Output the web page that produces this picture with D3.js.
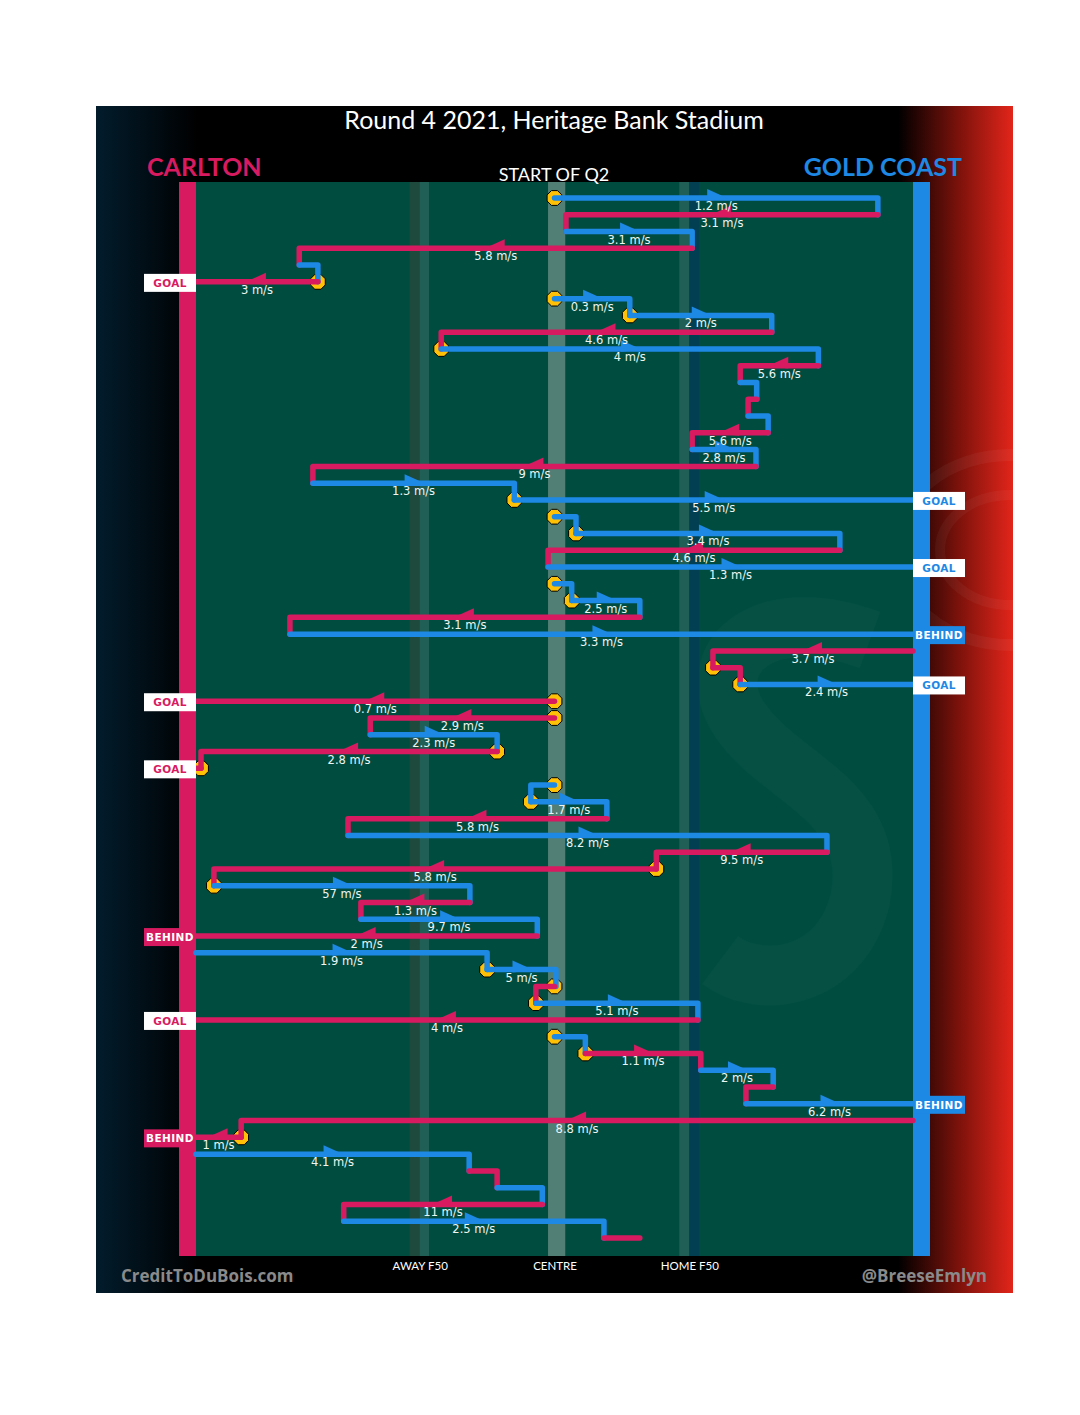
<!doctype html>
<html>
<head>
<script src="https://cdnjs.cloudflare.com/ajax/libs/d3/7.8.5/d3.min.js"></script>
<style>
body { margin: 0; background: #fff; }
text.speed {
  font-family: "DejaVu Sans", sans-serif;
  font-size: 11.5px;
  fill: #eef6f4;
  text-anchor: middle;
}
text.result {
  font-family: "DejaVu Sans", sans-serif;
  font-weight: bold;
  font-size: 10.5px;
  letter-spacing: 0.4px;
  text-anchor: middle;
}
.tick text {
  font-family: Lato, sans-serif;
  font-size: 11.5px;
  fill: #fff;
}
</style>
</head>
<body>
<svg id="chart" width="1080" height="1415"></svg>
<script>
// one row per possession segment, top to bottom
// field position: 0 = Carlton goal line, 100 = Gold Coast goal line
var team = ["GC","CAR","GC","CAR","GC","CAR","GC","GC","CAR","GC",
            "CAR","GC","CAR","GC","CAR","GC","CAR","GC","GC","GC",
            "GC","CAR","GC","GC","GC","CAR","GC","CAR","CAR","GC",
            "CAR","CAR","GC","CAR","CAR","GC","GC","CAR","GC","CAR",
            "CAR","GC","CAR","GC","CAR","GC","GC","CAR","GC","CAR",
            "GC","CAR","GC","CAR","GC","CAR","CAR","GC","CAR","GC",
            "CAR","GC","CAR"];
var xStart = [50,95.1,51.6,69.2,14.4,17.0,50,60.5,80.3,34.2,
              86.8,75.9,78.2,77.0,79.8,69.2,78.1,16.3,44.4,50,
              53.0,89.8,49.1,50,52.4,61.9,13.1,100,72.1,75.9,
              50,50,24.3,42.0,0.7,50,46.7,57.3,21.2,88.0,
              64.2,2.5,38.2,23.0,47.6,0,40.6,50,47.4,70.0,
              50,54.3,70.4,80.5,76.7,100,6.3,0,38.1,42.0,
              48.3,20.6,56.9];
var xEnd =   [95.1,51.6,69.2,14.4,17.0,0,60.5,80.3,34.2,86.8,
              75.9,78.2,77.0,79.8,69.2,78.1,16.3,44.4,100,53.0,
              89.8,49.1,100,52.4,61.9,13.1,100,72.1,75.9,100,
              0,24.3,42.0,0.7,0,46.7,57.3,21.2,88.0,64.2,
              2.5,38.2,23.0,47.6,0,40.6,50.2,47.4,70.0,0,
              54.3,70.4,80.5,76.7,100,6.3,0,38.1,42.0,48.3,
              20.6,56.9,61.9];
var speed =  ["1.2","3.1","3.1","5.8",null,"3","0.3","2","4.6","4",
              "5.6",null,null,null,"5.6","2.8","9","1.3","5.5",null,
              "3.4","4.6","1.3",null,"2.5","3.1","3.3","3.7",null,"2.4",
              "0.7","2.9","2.3","2.8",null,null,"1.7","5.8","8.2","9.5",
              "5.8","57","1.3","9.7","2","1.9","5",null,"5.1","4",
              null,"1.1","2",null,"6.2","8.8","1","4.1",null,null,
              "11","2.5",null];
var stoppage = [1,0,0,0,0,1,1,1,0,1,
                0,0,0,0,0,0,0,0,1,1,
                1,0,0,1,1,0,0,0,1,1,
                1,1,0,1,1,1,1,0,0,0,
                1,1,0,0,0,0,1,1,1,0,
                1,1,0,0,0,0,1,0,0,0,
                0,0,0];
var result = ["","","","","","GOAL","","","","",
              "","","","","","","","","GOAL","",
              "","","GOAL","","","","BEHIND","","","GOAL",
              "GOAL","","","","GOAL","","","","","",
              "","","","","BEHIND","","","","","GOAL",
              "","","","","BEHIND","","BEHIND","","","",
              "","",""];

var landmarks = ["AWAY F50", "CENTRE", "HOME F50"];
var landmarkPos = [31.2, 50, 68.8];

var teamColor = {CAR: "#D81B60", GC: "#1E88E5"};

var svg = d3.select("#chart");
var x = d3.scaleLinear().domain([0, 100]).range([196, 913]);
var y = d3.scaleLinear().domain([0, team.length - 1]).range([198, 1238]);

// background
var defs = svg.append("defs");
var bg = defs.append("linearGradient").attr("id", "bg");
bg.append("stop").attr("offset", "0%").attr("stop-color", "#021c2c");
bg.append("stop").attr("offset", "11%").attr("stop-color", "#000");
bg.append("stop").attr("offset", "87.5%").attr("stop-color", "#000");
bg.append("stop").attr("offset", "94%").attr("stop-color", "#7a120b");
bg.append("stop").attr("offset", "100%").attr("stop-color", "#e2251a");

svg.append("rect").attr("x", 96).attr("y", 106).attr("width", 917).attr("height", 1187)
  .attr("fill", "url(#bg)");

// faint logo on the red side
svg.append("ellipse").attr("cx", 1010).attr("cy", 550).attr("rx", 115).attr("ry", 95)
  .attr("fill", "none").attr("stroke", "#fff").attr("stroke-opacity", 0.045).attr("stroke-width", 12);
svg.append("ellipse").attr("cx", 1010).attr("cy", 550).attr("rx", 70).attr("ry", 55)
  .attr("fill", "none").attr("stroke", "#fff").attr("stroke-opacity", 0.04).attr("stroke-width", 10);

// field
svg.append("rect").attr("x", x(0)).attr("y", 182).attr("width", x(100) - x(0)).attr("height", 1074)
  .attr("fill", "#004D40");

// faint logo on the field
svg.append("path")
  .attr("d", "M870,640 C760,600 700,660 740,720 C780,780 880,800 860,900 C840,980 760,990 720,960")
  .attr("fill", "none").attr("stroke", "#fff").attr("stroke-opacity", 0.02).attr("stroke-width", 60);

var bands = [
  {a: 29.8, b: 31.2, c: "#1d4a3d"},
  {a: 31.2, b: 32.5, c: "#1f5f55"},
  {a: 49.1, b: 51.5, c: "#517f76"},
  {a: 67.4, b: 68.8, c: "#1f5f55"},
  {a: 68.8, b: 70.2, c: "#023f52"}
];
svg.append("g").selectAll("rect").data(bands).enter().append("rect")
  .attr("x", d => x(d.a)).attr("width", d => x(d.b) - x(d.a))
  .attr("y", 182).attr("height", 1074).attr("fill", d => d.c);

// goal lines
svg.append("rect").attr("x", 179).attr("y", 182).attr("width", 17).attr("height", 1074).attr("fill", teamColor.CAR);
svg.append("rect").attr("x", 913).attr("y", 182).attr("width", 17).attr("height", 1074).attr("fill", teamColor.GC);

var rows = d3.range(team.length);

// stoppage markers (under the lines)
var octagon = d3.range(8).map(i => {
  var a = Math.PI / 8 + i * Math.PI / 4;
  return [8 * Math.cos(a), 8 * Math.sin(a)];
});
svg.append("g").selectAll("polygon").data(rows.filter(i => stoppage[i])).enter().append("polygon")
  .attr("points", octagon.map(p => p.join(",")).join(" "))
  .attr("transform", i => "translate(" + x(xStart[i]) + "," + y(i) + ")")
  .attr("fill", "#FFC107").attr("stroke", "#000").attr("stroke-width", 1);

// chain lines
svg.append("g").selectAll("path").data(rows).enter().append("path")
  .attr("d", i => {
    var p = "M" + x(xStart[i]) + "," + y(i) + "H" + x(xEnd[i]);
    if (result[i] == "" && i < team.length - 1) p += "V" + y(i + 1);
    return p;
  })
  .attr("fill", "none")
  .attr("stroke", i => teamColor[team[i]])
  .attr("stroke-width", 5.5)
  .attr("stroke-linecap", "round")
  .attr("stroke-linejoin", "round");

var labelled = rows.filter(i => speed[i] != null);

// direction arrows
svg.append("g").selectAll("polygon").data(labelled).enter().append("polygon")
  .attr("points", i => {
    var m = x((xStart[i] + xEnd[i]) / 2), yy = y(i);
    var dir = xEnd[i] > xStart[i] ? 1 : -1;
    return [[m - dir * 9, yy - 9], [m + dir * 12, yy + 0.5], [m - dir * 9, yy + 2.8]].join(" ");
  })
  .attr("fill", i => teamColor[team[i]]);

svg.append("g").selectAll("text").data(labelled).enter().append("text")
  .attr("class", "speed")
  .attr("x", i => x((xStart[i] + xEnd[i]) / 2))
  .attr("y", i => y(i) + 12)
  .text(i => speed[i] + " m/s");

// goal / behind tags
var tags = svg.append("g").selectAll("g").data(rows.filter(i => result[i] != "")).enter().append("g")
  .attr("transform", i => "translate(" + (xEnd[i] == 0 ? 144 : 913) + "," + y(i) + ")");
tags.append("rect").attr("x", 0).attr("y", -8).attr("width", 52).attr("height", 18)
  .attr("fill", i => result[i] == "GOAL" ? "#fff" : teamColor[team[i]]);
tags.append("text").attr("class", "result").attr("x", 26).attr("y", 4.8)
  .attr("fill", i => result[i] == "GOAL" ? teamColor[team[i]] : "#fff")
  .text(i => result[i]);

// bottom landmarks axis
var axis = d3.axisBottom(x).tickValues(landmarkPos).tickSize(0)
  .tickFormat((d, i) => landmarks[i]);
svg.append("g").attr("transform", "translate(0,1256)").call(axis)
  .call(g => g.select(".domain").remove())
  .selectAll("text").attr("dy", "0.95em");

// titles
svg.append("text").attr("x", 554).attr("y", 129).attr("text-anchor", "middle")
  .style("font-family", "Lato, sans-serif").style("font-size", "25px").attr("fill", "#fff")
  .text("Round 4 2021, Heritage Bank Stadium");
svg.append("text").attr("x", 147).attr("y", 176)
  .style("font-family", "Lato, sans-serif").style("font-size", "25px").style("font-weight", "bold")
  .attr("fill", teamColor.CAR).text("CARLTON");
svg.append("text").attr("x", 962).attr("y", 176).attr("text-anchor", "end")
  .style("font-family", "Lato, sans-serif").style("font-size", "25px").style("font-weight", "bold")
  .attr("fill", teamColor.GC).text("GOLD COAST");
svg.append("text").attr("x", 554).attr("y", 181).attr("text-anchor", "middle")
  .style("font-family", "Lato, sans-serif").style("font-size", "18px").attr("fill", "#fff")
  .text("START OF Q2");

svg.append("text").attr("x", 121).attr("y", 1282)
  .style("font-family", "'Open Sans', sans-serif").style("font-size", "17px").style("font-weight", "bold")
  .attr("fill", "#8a8a8a").text("CreditToDuBois.com");
svg.append("text").attr("x", 987).attr("y", 1282).attr("text-anchor", "end")
  .style("font-family", "'Open Sans', sans-serif").style("font-size", "17px").style("font-weight", "bold")
  .attr("fill", "#8a8a8a").text("@BreeseEmlyn");
</script>
</body>
</html>
